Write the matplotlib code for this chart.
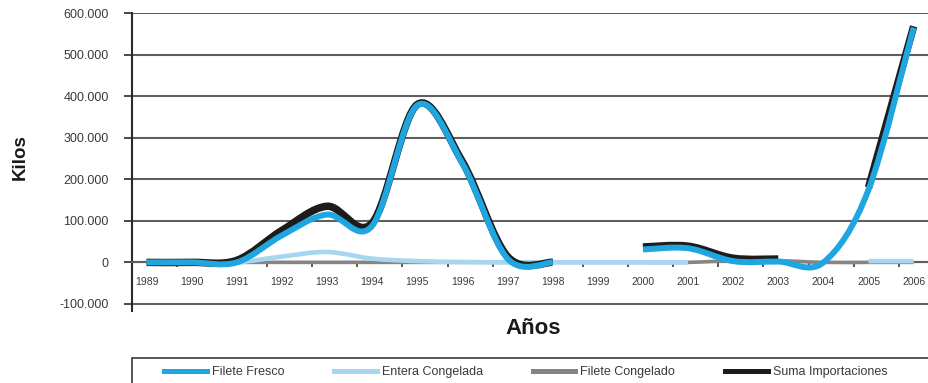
import numpy as np
import matplotlib
matplotlib.use("Agg")
import matplotlib.pyplot as plt
from matplotlib.path import Path
from matplotlib.patches import PathPatch, Rectangle
from matplotlib.lines import Line2D
from matplotlib.ticker import FuncFormatter

plt.rcParams['font.family'] = ['Liberation Sans', 'DejaVu Sans']

nan = np.nan
years = list(range(1989, 2007))

# kilos importados por año (nan = sin dato)
filete_fresco = [0, 0, 0, 65000, 115000, 88000, 378000, 238000, 9000, 0,
                 nan, 31000, 34000, 3000, 2000, 0, 175000, 565000]
entera_congelada = [0, 0, 0, 14000, 25000, 9000, 3000, 1000, 0, 0,
                    0, 0, 0, nan, nan, nan, 3000, 3000]
filete_congelado = [0, 0, 0, 0, 0, 0, 0, 0, 0, 0,
                    0, 0, 0, 4000, 4000, 0, 0, 0]
suma_importaciones = [0, 0, 5000, 77000, 135000, 95000, 380000, 242000, 14000, 0,
                      nan, 37000, 39000, 10000, 8000, nan, 180000, 568000]


def smooth_path(xs, ys):
    # curva suavizada tipo Excel (bezier cúbica), cortada donde falta el dato
    xs = np.asarray(xs, float)
    ys = np.asarray(ys, float)
    verts, codes = [], []
    ok = ~np.isnan(ys)
    i = 0
    while i < len(ys):
        if not ok[i]:
            i += 1
            continue
        j = i
        while j < len(ys) and ok[j]:
            j += 1
        pts = np.column_stack([xs[i:j], ys[i:j]])
        n = len(pts)
        verts.append(pts[0]); codes.append(Path.MOVETO)
        for k in range(n - 1):
            p0 = pts[k - 1] if k > 0 else pts[k]
            p3 = pts[k + 2] if k + 2 < n else pts[k + 1]
            c1 = pts[k] + (pts[k + 1] - p0) / 6
            c2 = pts[k + 1] - (p3 - pts[k]) / 6
            verts += [c1, c2, pts[k + 1]]
            codes += [Path.CURVE4] * 3
        i = j
    return Path(verts, codes)


fig = plt.figure(figsize=(9.29, 3.83), dpi=100)
ax = fig.add_axes([131.7 / 929, 1 - 311 / 383, 1 - 131.7 / 929, 298 / 383])

x = np.arange(len(years))
series = [
    (filete_congelado, '#858585', 2.6, 3),
    (entera_congelada, '#a6d6f0', 3.3, 4),
    (suma_importaciones, '#1c1c1c', 5.4, 5),
    (filete_fresco, '#1fa6e0', 4.3, 6),
]
for vals, col, lw, z in series:
    ax.add_patch(PathPatch(smooth_path(x, vals), fill=False, edgecolor=col,
                           lw=lw, capstyle='butt', joinstyle='round', zorder=z))

ax.set_xlim(-0.33, 17.34)
ax.set_ylim(-117000, 600000)

# eje de categorías sobre el cero
for s in ['top', 'right']:
    ax.spines[s].set_visible(False)
ax.spines['bottom'].set_position(('data', 0))
ax.spines['bottom'].set_color('#5e5e5e')
ax.spines['bottom'].set_linewidth(1.5)
ax.spines['left'].set_color('#2a2a2a')
ax.spines['left'].set_linewidth(1.5)

ax.set_yticks(np.arange(-100000, 600001, 100000))
ax.yaxis.set_major_formatter(FuncFormatter(
    lambda v, _: '0' if v == 0 else f'{v:,.0f}'.replace(',', '.')))
ax.yaxis.grid(True, color='#5e5e5e', lw=1.5)
ax.set_axisbelow(True)
ax.tick_params(axis='y', length=5.8, width=1.2, color='#2a2a2a', pad=10.8,
               labelsize=9, labelcolor='#3a3a3a')

ax.set_xticks(x - 0.33)
ax.set_xticklabels([])
ax.set_xticks(x, [str(y) for y in years], minor=True)
ax.tick_params(axis='x', which='major', length=3.6, width=1.2, color='#3a3a3a')
ax.tick_params(axis='x', which='minor', length=0, pad=10.6,
               labelsize=7.5, labelcolor='#3a3a3a')

fig.text(20 / 929, 1 - 157 / 383, 'Kilos', rotation=90, fontsize=13.5,
         fontweight='bold', ha='center', va='center', color='#1a1a1a')
fig.text(533 / 929, 1 - 328 / 383, 'Años', fontsize=16, fontweight='bold',
         ha='center', va='center', color='#1a1a1a')

# leyenda
fig.patches.append(Rectangle((131.7 / 929, -0.03), 0.87, 0.03 + 1 - 358 / 383,
                             transform=fig.transFigure, fill=False,
                             edgecolor='#3a3a3a', lw=1.2))
handles = [
    Line2D([], [], color='#1fa6e0', lw=3.6),
    Line2D([], [], color='#a6d6f0', lw=3.6),
    Line2D([], [], color='#858585', lw=3.6),
    Line2D([], [], color='#1c1c1c', lw=3.6),
]
names = ['Filete Fresco', 'Entera Congelada', 'Filete Congelado',
         'Suma Importaciones']
fig.legend(handles, names, loc='center left',
           bbox_to_anchor=(158 / 929, 1 - 372 / 383), ncol=4, frameon=False,
           borderpad=0, fontsize=9, handlelength=3.4, handletextpad=0.4,
           columnspacing=4.0, labelcolor='#3a3a3a')

fig.savefig('out.png', dpi=100)
